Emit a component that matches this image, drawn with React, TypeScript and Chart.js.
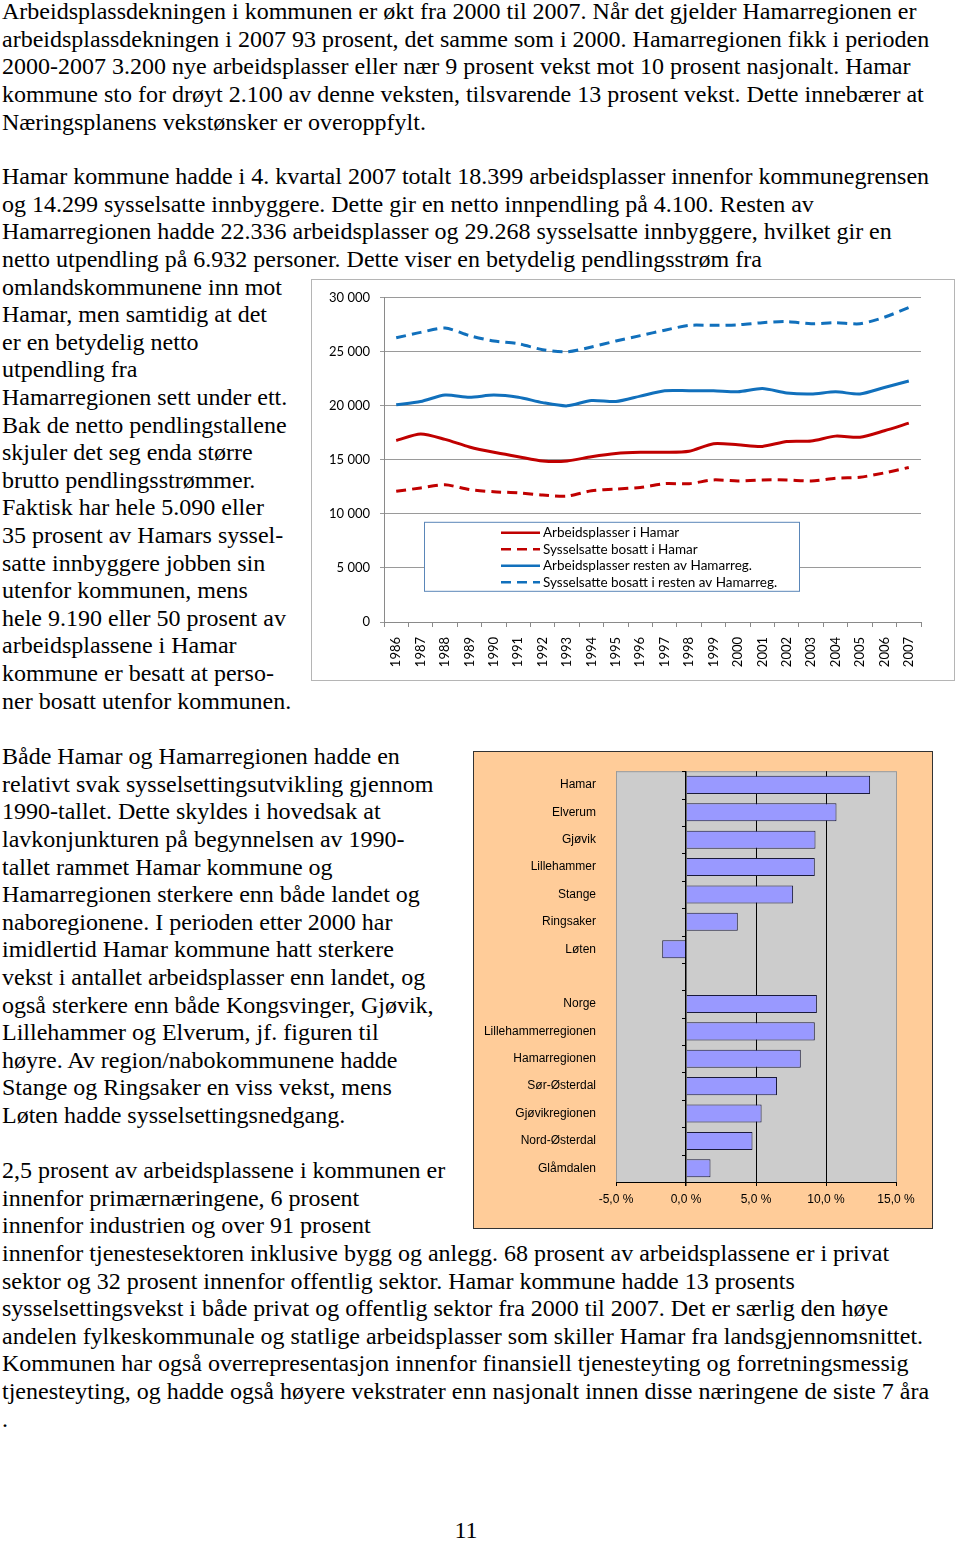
import React, { useEffect, useRef } from "react";
import { Chart, registerables } from "chart.js";

Chart.register(...registerables);

// ---------- Line chart data ----------
const years = [
  "1986", "1987", "1988", "1989", "1990", "1991", "1992", "1993", "1994", "1995", "1996",
  "1997", "1998", "1999", "2000", "2001", "2002", "2003", "2004", "2005", "2006", "2007",
];
const arbeidsplasserHamar = [
  16800, 17400, 16900, 16200, 15700, 15300, 14900, 14900, 15300, 15600, 15700,
  15700, 15800, 16500, 16400, 16250, 16700, 16750, 17200, 17100, 17700, 18399,
];
const sysselsatteHamar = [
  12100, 12400, 12700, 12250, 12050, 11950, 11750, 11650, 12150, 12300, 12450,
  12800, 12800, 13150, 13050, 13150, 13150, 13050, 13300, 13400, 13800, 14299,
];
const arbeidsplasserResten = [
  20100, 20400, 21000, 20800, 21000, 20800, 20300, 20000, 20500, 20400, 20900,
  21400, 21400, 21400, 21300, 21600, 21200, 21100, 21300, 21100, 21700, 22300,
];
const sysselsatteResten = [
  26300, 26800, 27200, 26500, 26000, 25750, 25200, 25000, 25450, 26000, 26500,
  27000, 27450, 27450, 27500, 27700, 27800, 27600, 27700, 27600, 28200, 29100,
];
const seriesLabels = [
  "Arbeidsplasser i Hamar",
  "Sysselsatte bosatt i Hamar",
  "Arbeidsplasser resten av Hamarreg.",
  "Sysselsatte bosatt i resten av Hamarreg.",
];

// ---------- Bar chart data ----------
const regions = [
  "Hamar", "Elverum", "Gjøvik", "Lillehammer", "Stange", "Ringsaker", "Løten", "",
  "Norge", "Lillehammerregionen", "Hamarregionen", "Sør-Østerdal", "Gjøvikregionen",
  "Nord-Østerdal", "Glåmdalen",
];
const growth: (number | null)[] = [
  13.15, 10.75, 9.25, 9.2, 7.65, 3.7, -1.7, null, 9.35, 9.2, 8.2, 6.5, 5.4, 4.75, 1.75,
];

// ---------- Text ----------
const para1 = [
  "Arbeidsplassdekningen i kommunen er økt fra 2000 til 2007. Når det gjelder Hamarregionen er",
  "arbeidsplassdekningen i 2007 93 prosent, det samme som i 2000. Hamarregionen fikk i perioden",
  "2000-2007 3.200 nye arbeidsplasser eller nær 9 prosent vekst mot 10 prosent nasjonalt. Hamar",
  "kommune sto for drøyt 2.100 av denne veksten, tilsvarende 13 prosent vekst. Dette innebærer at",
  "Næringsplanens vekstønsker er overoppfylt.",
];
const para2 = [
  "Hamar kommune hadde i 4. kvartal 2007 totalt 18.399 arbeidsplasser innenfor kommunegrensen",
  "og 14.299 sysselsatte innbyggere. Dette gir en netto innpendling på 4.100. Resten av",
  "Hamarregionen hadde 22.336 arbeidsplasser og 29.268 sysselsatte innbyggere, hvilket gir en",
  "netto utpendling på 6.932 personer. Dette viser en betydelig pendlingsstrøm fra",
  "omlandskommunene inn mot",
  "Hamar, men samtidig at det",
  "er en betydelig netto",
  "utpendling fra",
  "Hamarregionen sett under ett.",
  "Bak de netto pendlingstallene",
  "skjuler det seg enda større",
  "brutto pendlingsstrømmer.",
  "Faktisk har hele 5.090 eller",
  "35 prosent av Hamars syssel-",
  "satte innbyggere jobben sin",
  "utenfor kommunen, mens",
  "hele 9.190 eller 50 prosent av",
  "arbeidsplassene i Hamar",
  "kommune er besatt at perso-",
  "ner bosatt utenfor kommunen.",
];
const para3 = [
  "Både Hamar og Hamarregionen hadde en",
  "relativt svak sysselsettingsutvikling gjennom",
  "1990-tallet. Dette skyldes i hovedsak at",
  "lavkonjunkturen på begynnelsen av 1990-",
  "tallet rammet Hamar kommune og",
  "Hamarregionen sterkere enn både landet og",
  "naboregionene. I perioden etter 2000 har",
  "imidlertid Hamar kommune hatt sterkere",
  "vekst i antallet arbeidsplasser enn landet, og",
  "også sterkere enn både Kongsvinger, Gjøvik,",
  "Lillehammer og Elverum, jf. figuren til",
  "høyre. Av region/nabokommunene hadde",
  "Stange og Ringsaker en viss vekst, mens",
  "Løten hadde sysselsettingsnedgang.",
];
const para4 = [
  "2,5 prosent av arbeidsplassene i kommunen er",
  "innenfor primærnæringene, 6 prosent",
  "innenfor industrien og over 91 prosent",
  "innenfor tjenestesektoren inklusive bygg og anlegg. 68 prosent av arbeidsplassene er i privat",
  "sektor og 32 prosent innenfor offentlig sektor. Hamar kommune hadde 13 prosents",
  "sysselsettingsvekst i både privat og offentlig sektor fra 2000 til 2007. Det er særlig den høye",
  "andelen fylkeskommunale og statlige arbeidsplasser som skiller Hamar fra landsgjennomsnittet.",
  "Kommunen har også overrepresentasjon innenfor finansiell tjenesteyting og forretningsmessig",
  "tjenesteyting, og hadde også høyere vekstrater enn nasjonalt innen disse næringene de siste 7 åra",
  ".",
];
const pageNumber = "11";

const LINE_H = 27.6;
const FONT_SIZE = 24;
const textFont = "'Liberation Serif', 'Times New Roman', serif";

function TextBlock({ lines, startY }: { lines: string[]; startY: number }) {
  return (
    <>
      {lines.map((t, i) => (
        <div
          key={i}
          style={{
            position: "absolute",
            left: 2,
            top: startY + i * LINE_H - LINE_H / 2,
            height: LINE_H,
            lineHeight: LINE_H + "px",
            fontFamily: textFont,
            fontSize: FONT_SIZE,
            whiteSpace: "nowrap",
            color: "#000",
          }}
        >
          {t}
        </div>
      ))}
    </>
  );
}

const RED = "#C00000";
const BLUE = "#1170BC";

function LineChart() {
  const ref = useRef<HTMLCanvasElement>(null);
  useEffect(() => {
    if (!ref.current) return;
    const legendBox = {
      id: "legendBox",
      beforeDatasetsDraw(chart: any) {
        const ctx = chart.ctx;
        const ca = chart.chartArea;
        const x = ca.left + 40;
        const y = ca.top + 224;
        const w = 375;
        const h = 69;
        ctx.save();
        ctx.fillStyle = "#ffffff";
        ctx.fillRect(x, y, w, h);
        ctx.strokeStyle = "#5a86b8";
        ctx.lineWidth = 1;
        ctx.strokeRect(x + 0.5, y + 0.5, w, h);
        chart.data.datasets.forEach((ds: any, i: number) => {
          const ry = y + 11 + i * 16.5;
          ctx.strokeStyle = ds.borderColor;
          ctx.lineWidth = 2.5;
          ctx.setLineDash(ds.borderDash || []);
          ctx.beginPath();
          ctx.moveTo(x + 77, ry);
          ctx.lineTo(x + 116, ry);
          ctx.stroke();
          ctx.setLineDash([]);
          ctx.fillStyle = "#000";
          ctx.font = "13.5px Lato";
          ctx.textBaseline = "middle";
          ctx.textAlign = "left";
          ctx.fillText(ds.label, x + 119, ry);
        });
        ctx.restore();
      },
    };
    const chart = new Chart(ref.current, {
      type: "line",
      data: {
        labels: years,
        datasets: [
          { label: seriesLabels[0], data: arbeidsplasserHamar, borderColor: RED, borderWidth: 3 },
          { label: seriesLabels[1], data: sysselsatteHamar, borderColor: RED, borderWidth: 3, borderDash: [10, 6] },
          { label: seriesLabels[2], data: arbeidsplasserResten, borderColor: BLUE, borderWidth: 3 },
          { label: seriesLabels[3], data: sysselsatteResten, borderColor: BLUE, borderWidth: 3, borderDash: [10, 6] },
        ].map((d) => ({ ...d, pointRadius: 0, tension: 0.25, fill: false })),
      },
      options: {
        responsive: false,
        animation: false,
        layout: { padding: { top: 17, right: 33, left: 0, bottom: 0 } },
        plugins: { legend: { display: false }, tooltip: { enabled: false } },
        scales: {
          x: {
            type: "category",
            offset: true,
            grid: { offset: true, drawOnChartArea: false, tickLength: 5, color: "#8a8a8a" },
            border: { color: "#8a8a8a" },
            ticks: { minRotation: 90, maxRotation: 90, autoSkip: false, padding: 10, color: "#000", font: { family: "Lato", size: 13 } },
            afterFit: (s: any) => { s.height = 58; },
          },
          y: {
            min: 0,
            max: 30000,
            ticks: {
              stepSize: 5000,
              padding: 10,
              color: "#000",
              font: { family: "Lato", size: 13 },
              callback: (v: any) => {
                const n = Number(v);
                if (n === 0) return "0";
                return Math.floor(n / 1000) + " " + String(n % 1000).padStart(3, "0");
              },
            },
            grid: { color: "#9a9a9a", tickLength: 4 },
            border: { color: "#8a8a8a" },
            afterFit: (s: any) => { s.width = 72; },
          },
        },
      },
      plugins: [legendBox],
    });
    return () => chart.destroy();
  }, []);
  return <canvas ref={ref} width={642} height={400} style={{ display: "block" }} />;
}

function BarChart() {
  const ref = useRef<HTMLCanvasElement>(null);
  useEffect(() => {
    if (!ref.current) return;
    const plotBg = {
      id: "plotBg",
      beforeDraw(chart: any) {
        const { ctx, chartArea } = chart;
        ctx.save();
        ctx.fillStyle = "#CCCCCC";
        ctx.fillRect(chartArea.left, chartArea.top, chartArea.width, chartArea.height);
        ctx.strokeStyle = "#9a9a9a";
        ctx.lineWidth = 1;
        ctx.beginPath();
        ctx.moveTo(chartArea.left, chartArea.top + 0.5);
        ctx.lineTo(chartArea.right, chartArea.top + 0.5);
        ctx.stroke();
        ctx.restore();
      },
    };
    const zeroTicks = {
      id: "zeroTicks",
      afterDatasetsDraw(chart: any) {
        const { ctx, chartArea } = chart;
        const x0 = chart.scales.x.getPixelForValue(0);
        const n = chart.data.labels.length;
        const step = (chartArea.bottom - chartArea.top) / n;
        ctx.save();
        ctx.strokeStyle = "#000";
        ctx.lineWidth = 1;
        ctx.beginPath();
        for (let i = 0; i <= n; i++) {
          const y = Math.round(chartArea.top + i * step) + 0.5;
          ctx.moveTo(x0 - 4, y);
          ctx.lineTo(x0, y);
        }
        ctx.stroke();
        ctx.restore();
      },
    };
    const chart = new Chart(ref.current, {
      type: "bar",
      data: {
        labels: regions,
        datasets: [
          {
            data: growth,
            backgroundColor: "#9999FF",
            borderColor: "#1a1a3a",
            borderWidth: 1,
            barPercentage: 0.66,
            categoryPercentage: 1,
          },
        ],
      },
      options: {
        indexAxis: "y",
        responsive: false,
        animation: false,
        layout: { padding: { top: 16, right: 36, left: 0, bottom: 0 } },
        plugins: { legend: { display: false }, tooltip: { enabled: false } },
        scales: {
          x: {
            min: -5,
            max: 15,
            ticks: {
              stepSize: 5,
              padding: 6,
              color: "#000",
              font: { family: "'Liberation Sans', Arial", size: 12 },
              callback: (v: any) => Number(v).toFixed(1).replace(".", ",") + " %",
            },
            grid: {
              color: (c: any) => (c.tick && (c.tick.value === -5 || c.tick.value === 15) ? "#9a9a9a" : "#000"),
              lineWidth: (c: any) => (c.tick && c.tick.value === 0 ? 1.5 : 1),
              tickColor: "#000",
              tickLength: 4,
            },
            border: { color: "#000", width: 1 },
            afterFit: (s: any) => { s.height = 46; },
          },
          y: {
            ticks: { autoSkip: false, padding: 12, color: "#000", font: { family: "'Liberation Sans', Arial", size: 12 } },
            grid: { display: false },
            border: { display: false },
            afterFit: (s: any) => { s.width = 142; },
          },
        },
      },
      plugins: [plotBg, zeroTicks],
    });
    return () => chart.destroy();
  }, []);
  return <canvas ref={ref} width={458} height={476} style={{ display: "block" }} />;
}

export default function App() {
  return (
    <div
      style={{
        position: "absolute",
        left: 0,
        top: 0,
        width: 960,
        height: 1543,
        background: "#fff",
        overflow: "hidden",
      }}
    >
      <TextBlock lines={para1} startY={12} />
      <TextBlock lines={para2} startY={177} />
      <TextBlock lines={para3} startY={757} />
      <TextBlock lines={para4} startY={1171} />
      <div
        style={{
          position: "absolute",
          left: 446,
          width: 40,
          textAlign: "center",
          top: 1531 - LINE_H / 2,
          lineHeight: LINE_H + "px",
          fontFamily: textFont,
          fontSize: FONT_SIZE,
        }}
      >
        {pageNumber}
      </div>
      <div
        style={{
          position: "absolute",
          left: 311,
          top: 279,
          width: 642,
          height: 400,
          border: "1px solid #b5b5b5",
          background: "#fff",
        }}
      >
        <LineChart />
      </div>
      <div
        style={{
          position: "absolute",
          left: 473,
          top: 751,
          width: 458,
          height: 476,
          border: "1px solid #333",
          background: "#FFCC99",
        }}
      >
        <BarChart />
      </div>
    </div>
  );
}
